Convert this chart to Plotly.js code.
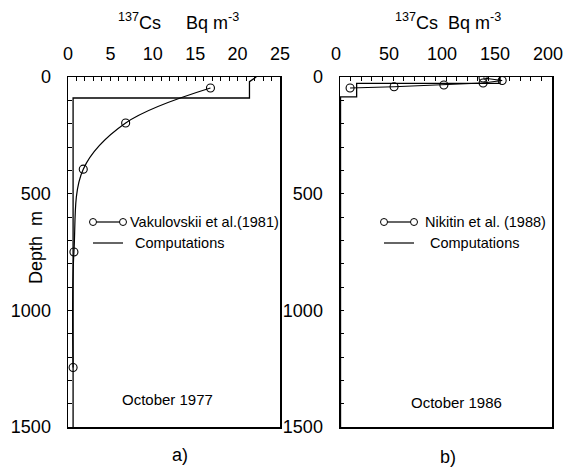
<!DOCTYPE html>
<html>
<head>
<meta charset="utf-8">
<script src="https://cdn.plot.ly/plotly-3.0.1.min.js"></script>
<style>html,body{margin:0;padding:0;background:#fff;}#plot{width:565px;height:471px;}</style>
</head>
<body>
<div id="plot"></div>
<script>
// ---- Data ----
// Panel a) October 1977
const vakDepth = [47, 197, 395, 750, 1245];
const vakConc  = [16.8, 6.8, 1.8, 0.7, 0.6];
const comp77Depth = [0, 20, 90, 90, 1500];
const comp77Conc  = [22.2, 21.4, 21.4, 0.6, 0.6];
// Panel b) October 1986
const nikDepth = [4, 15, 26, 34, 42, 47];
const nikConc  = [135, 153, 135, 98, 51, 9.5];
const comp86Depth = [0, 27, 27, 85, 85, 1500];
const comp86Conc  = [151, 151, 15.7, 15.7, 0.5, 0.5];
// Tick settings
const xTicksA = [0, 5, 10, 15, 20, 25];
const xTicksB = [0, 50, 100, 150, 200];
const yTicks = [0, 500, 1000, 1500];

const W = 565, H = 471;
const FONT = "'Liberation Sans', Arial, Helvetica, sans-serif";
const px = v => v / W;
const py = v => 1 - v / H;

const traces = [
  {x: comp77Conc, y: comp77Depth, xaxis: 'x', yaxis: 'y', mode: 'lines',
   line: {color: '#000', width: 1.3}, hoverinfo: 'skip'},
  {x: vakConc, y: vakDepth, xaxis: 'x', yaxis: 'y', mode: 'lines+markers',
   line: {color: '#000', width: 1.2, shape: 'spline', smoothing: 1},
   marker: {symbol: 'circle-open', size: 8, color: '#000', line: {width: 1.1}}},
  {x: comp86Conc, y: comp86Depth, xaxis: 'x2', yaxis: 'y2', mode: 'lines',
   line: {color: '#000', width: 1.3}, hoverinfo: 'skip'},
  {x: nikConc, y: nikDepth, xaxis: 'x2', yaxis: 'y2', mode: 'lines+markers',
   line: {color: '#000', width: 1.1},
   marker: {symbol: 'circle-open', size: 8, color: '#000', line: {width: 1.1}}}
];

function xAxis(domain, range, ticks, minor, anchor, shift) {
  return {domain: domain, range: range, anchor: anchor, side: 'top',
    tickmode: 'array', tickvals: ticks, ticktext: ticks.map(String),
    ticks: 'inside', ticklen: 4, tickwidth: 1, tickcolor: '#000',
    minor: {dtick: minor, ticks: 'inside', ticklen: 4, tickwidth: 1, tickcolor: '#000', showgrid: false},
    showline: true, mirror: true, linecolor: '#000', linewidth: 1.5,
    showgrid: false, zeroline: false, ticklabelstandoff: 8, ticklabeloverflow: 'allow',
    ticklabelshift: shift,
    tickfont: {family: FONT, size: 18, color: '#000'}, fixedrange: true};
}
function yAxis(domain, anchor) {
  return {domain: domain, range: [1500, 0], anchor: anchor,
    tickmode: 'array', tickvals: yTicks, ticktext: yTicks.map(String),
    ticks: 'inside', ticklen: 4, tickwidth: 1, tickcolor: '#000',
    minor: {dtick: 100, ticks: 'inside', ticklen: 4, tickwidth: 1, tickcolor: '#000', showgrid: false},
    showline: true, mirror: true, linecolor: '#000', linewidth: 1.5,
    showgrid: false, zeroline: false, ticklabelstandoff: 12, ticklabeloverflow: 'allow',
    tickfont: {family: FONT, size: 18, color: '#000'}, fixedrange: true};
}

const yDom = [py(427), py(77)];
const layout = {
  width: W, height: H,
  margin: {l: 0, r: 0, t: 0, b: 0},
  paper_bgcolor: '#fff', plot_bgcolor: '#fff',
  showlegend: false,
  xaxis: xAxis([px(68), px(280)], [0, 25], xTicksA, 1, 'y', 0),
  yaxis: yAxis(yDom, 'x'),
  xaxis2: xAxis([px(340), px(552)], [0, 200], xTicksB, 10, 'y2', -4),
  yaxis2: yAxis(yDom, 'x2'),
  annotations: [],
  shapes: []
};

function ann(text, x, y, size, opts) {
  layout.annotations.push(Object.assign({
    text: text, xref: 'paper', yref: 'paper', x: px(x), y: py(y),
    xanchor: 'center', yanchor: 'middle', showarrow: false,
    font: {family: FONT, size: size, color: '#000'}
  }, opts || {}));
}
ann('<sup>137</sup>Cs\u00A0\u00A0\u00A0\u00A0\u00A0Bq m<sup>-3</sup>', 178, 22, 18);
ann('<sup>137</sup>Cs\u00A0\u00A0Bq m<sup>-3</sup>', 448, 22, 18);
ann('Depth\u00A0\u00A0m', 36, 248, 18, {textangle: -90});
ann('Vakulovskii et al.(1981)', 128, 222, 14.5, {xanchor: 'left'});
ann('Computations', 133, 243, 14.5, {xanchor: 'left'});
ann('Nikitin et al. (1988)', 423, 222, 14.5, {xanchor: 'left'});
ann('Computations', 428, 243, 14.5, {xanchor: 'left'});
ann('October 1977', 167, 399, 15);
ann('October 1986', 457, 402, 15);
ann('a)', 180, 455, 18);
ann('b)', 448, 457, 18);

function legLine(x0, x1, y) {
  layout.shapes.push({type: 'line', xref: 'paper', yref: 'paper',
    x0: px(x0), x1: px(x1), y0: py(y), y1: py(y), line: {color: '#000', width: 1.2}});
}
function legCircle(x, y) {
  layout.shapes.push({type: 'circle', xref: 'paper', yref: 'paper',
    xsizemode: 'pixel', ysizemode: 'pixel', xanchor: px(x), yanchor: py(y),
    x0: -3.5, x1: 3.5, y0: -3.5, y1: 3.5, fillcolor: '#fff', line: {color: '#000', width: 1}});
}
legLine(93, 123, 222); legCircle(93, 222); legCircle(123, 222);
legLine(93, 123, 243);
legLine(384, 414, 222); legCircle(384, 222); legCircle(414, 222);
legLine(384, 414, 243);

Plotly.newPlot('plot', traces, layout, {displayModeBar: false, staticPlot: true});
</script>
</body>
</html>
